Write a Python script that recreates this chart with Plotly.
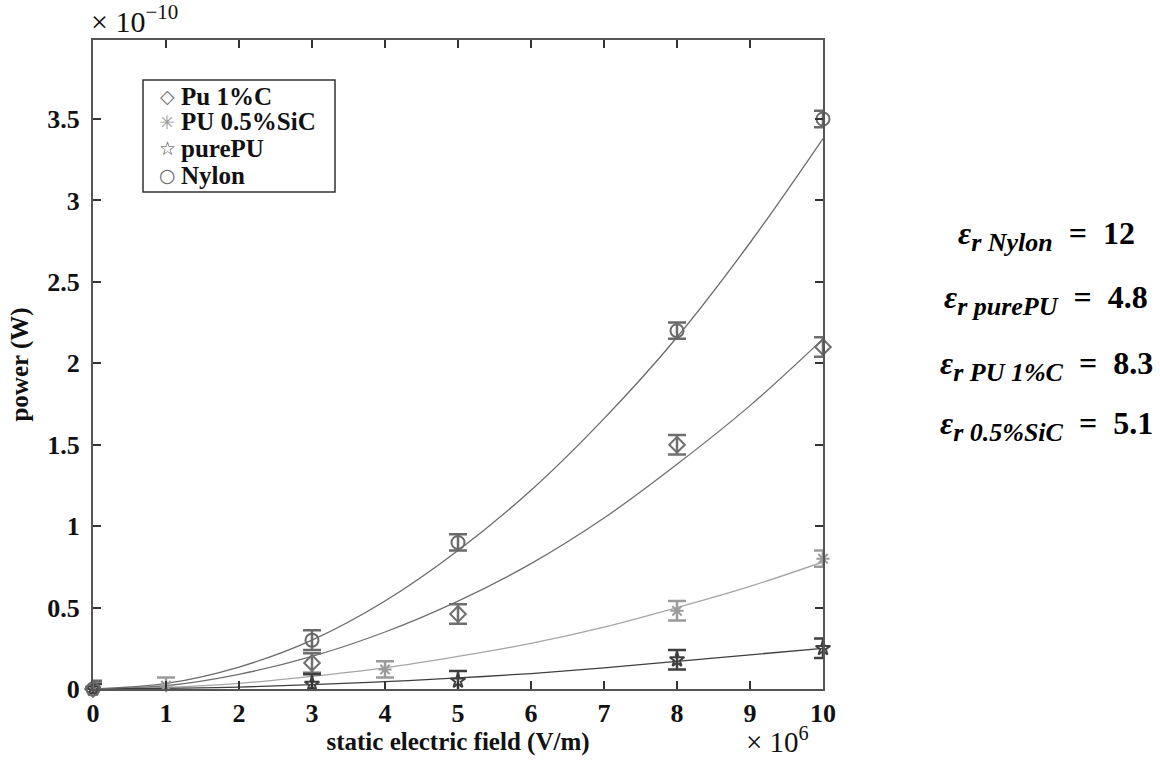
import plotly.graph_objects as go

# ---- data (power in units of 1e-10 W, field in units of 1e6 V/m) ----
nylon_x = [0, 3, 5, 8, 10]
nylon_y = [0.0, 0.30, 0.90, 2.20, 3.50]
nylon_err = [0.05, 0.06, 0.05, 0.05, 0.05]

pu1c_x = [0, 3, 5, 8, 10]
pu1c_y = [0.0, 0.16, 0.46, 1.50, 2.10]
pu1c_err = [0.04, 0.06, 0.06, 0.06, 0.06]

sic_x = [0, 1, 4, 8, 10]
sic_y = [0.0, 0.02, 0.12, 0.48, 0.80]
sic_err = [0.04, 0.05, 0.05, 0.06, 0.05]

pure_x = [0, 3, 5, 8, 10]
pure_y = [0.0, 0.03, 0.05, 0.18, 0.25]
pure_err = [0.03, 0.06, 0.06, 0.06, 0.06]

# fitted curves
fit_x = [0, 1, 2, 3, 4, 5, 6, 7, 8, 9, 10]
nylon_fit = [0, 0.034, 0.135, 0.30, 0.54, 0.85, 1.22, 1.66, 2.16, 2.74, 3.38]
pu1c_fit = [0, 0.02, 0.09, 0.20, 0.35, 0.54, 0.77, 1.05, 1.38, 1.74, 2.15]
sic_fit = [0, 0.01, 0.035, 0.078, 0.13, 0.20, 0.28, 0.38, 0.50, 0.63, 0.78]
pure_fit = [0, 0.004, 0.012, 0.027, 0.045, 0.068, 0.095, 0.13, 0.17, 0.21, 0.25]

x_ticks = [0, 1, 2, 3, 4, 5, 6, 7, 8, 9, 10]
x_ticktext = ["0", "1", "2", "3", "4", "5", "6", "7", "8", "9", "10"]
y_ticks = [0, 0.5, 1, 1.5, 2, 2.5, 3, 3.5]
y_ticktext = ["0", "0.5", "1", "1.5", "2", "2.5", "3", "3.5"]

legend_names = ["Pu 1%C", "PU 0.5%SiC", "purePU", "Nylon"]
legend_glyphs = ["◇", "✳", "☆", "○"]

eps_labels = ["Nylon", "purePU", "PU 1%C", "0.5%SiC"]
eps_values = ["12", "4.8", "8.3", "5.1"]

FONT = "Liberation Serif, Times New Roman, serif"

# plot-area geometry in pixels (for placing the non-data texts)
L, R, T, B = 93, 823, 40, 689
W_, H_ = R - L, B - T


def px(x):
    return (x - L) / W_


def py(y):
    return (B - y) / H_


fig = go.Figure()

series = [
    (legend_names[0], pu1c_x, pu1c_y, pu1c_err, "diamond-open", "#6f6f6f", 12),
    (legend_names[1], sic_x, sic_y, sic_err, "asterisk-open", "#9a9a9a", 11),
    (legend_names[2], pure_x, pure_y, pure_err, "star-open", "#3f3f3f", 11),
    (legend_names[3], nylon_x, nylon_y, nylon_err, "circle-open", "#6a6a6a", 13),
]
fits = [
    (pu1c_fit, "#6f6f6f"),
    (sic_fit, "#a5a5a5"),
    (pure_fit, "#3f3f3f"),
    (nylon_fit, "#6a6a6a"),
]

for fy, col in fits:
    fig.add_trace(go.Scatter(
        x=fit_x, y=fy, mode="lines", line=dict(color=col, width=1.3, shape="spline"),
        showlegend=False, hoverinfo="skip", cliponaxis=False))

for name, xs, ys, es, sym, col, sz in series:
    fig.add_trace(go.Scatter(
        x=xs, y=ys, mode="markers", name=name, showlegend=False,
        marker=dict(symbol=sym, size=sz, color=col, line=dict(width=2, color=col)),
        error_y=dict(type="data", array=es, visible=True, color=col, thickness=2.5, width=9),
        cliponaxis=False))

tickfont = dict(family=FONT, size=26, color="#111111", weight="bold")

fig.update_layout(
    width=1160, height=761,
    margin=dict(l=L, r=1160 - R, t=T, b=761 - B),
    paper_bgcolor="white", plot_bgcolor="white",
    font=dict(family=FONT, color="#111111"),
    showlegend=False,
    xaxis=dict(
        range=[0, 10], tickvals=x_ticks, ticktext=x_ticktext,
        ticks="inside", ticklen=8, tickwidth=1.5, tickcolor="#333333",
        showline=True, linecolor="#555555", linewidth=2, mirror="ticks",
        showgrid=False, zeroline=False,
        tickfont=tickfont, ticklabelstandoff=0,
        title=dict(text="static electric field (V/m)",
                   font=dict(family=FONT, size=25, color="#111111", weight="bold"), standoff=4),
    ),
    yaxis=dict(
        range=[0, 3.985], tickvals=y_ticks, ticktext=y_ticktext,
        ticks="inside", ticklen=8, tickwidth=1.5, tickcolor="#333333",
        showline=True, linecolor="#555555", linewidth=2, mirror="ticks",
        showgrid=False, zeroline=False,
        tickfont=tickfont, ticklabelstandoff=6,
        title=dict(text="power (W)",
                   font=dict(family=FONT, size=25, color="#111111", weight="bold"), standoff=12),
    ),
)

# legend box (drawn by hand to match the compact original)
fig.add_shape(type="rect", xref="paper", yref="paper",
              x0=px(143), x1=px(335), y0=py(192), y1=py(80),
              line=dict(color="#333333", width=1.5), fillcolor="white", layer="above")
leg_rows = [96, 122, 148, 175]
glyph_colors = ["#6f6f6f", "#9a9a9a", "#3f3f3f", "#6a6a6a"]
for name, g, gc, ry in zip(legend_names, legend_glyphs, glyph_colors, leg_rows):
    fig.add_annotation(xref="paper", yref="paper", x=px(167), y=py(ry),
                       xanchor="center", yanchor="middle", showarrow=False,
                       text=g, font=dict(family="DejaVu Sans, sans-serif", size=19, color=gc))
    fig.add_annotation(xref="paper", yref="paper", x=px(179), y=py(ry),
                       xanchor="left", yanchor="middle", showarrow=False,
                       text=name, font=dict(family=FONT, size=25, color="#111111", weight="bold"))

# exponent labels
fig.add_annotation(xref="paper", yref="paper", x=px(89), y=py(19),
                   xanchor="left", yanchor="middle", showarrow=False,
                   text="× 10<sup>−10</sup>", font=dict(family=FONT, size=30, color="#111111"))
fig.add_annotation(xref="paper", yref="paper", x=px(744), y=py(740),
                   xanchor="left", yanchor="middle", showarrow=False,
                   text="× 10<sup>6</sup>", font=dict(family=FONT, size=29, color="#111111"))

# permittivity annotations
eps_y = [236, 300, 366, 426]
for lab, val, yy in zip(eps_labels, eps_values, eps_y):
    fig.add_annotation(
        xref="paper", yref="paper", x=px(1046), y=py(yy),
        xanchor="center", yanchor="middle", showarrow=False,
        text=(f"<b><i>ε</i><sub><i><span style='font-size:26px'>r {lab}</span></i></sub>"
              f"  =  {val}</b>"),
        font=dict(family=FONT, size=32, color="#000000"))

fig.write_html("out.html")
